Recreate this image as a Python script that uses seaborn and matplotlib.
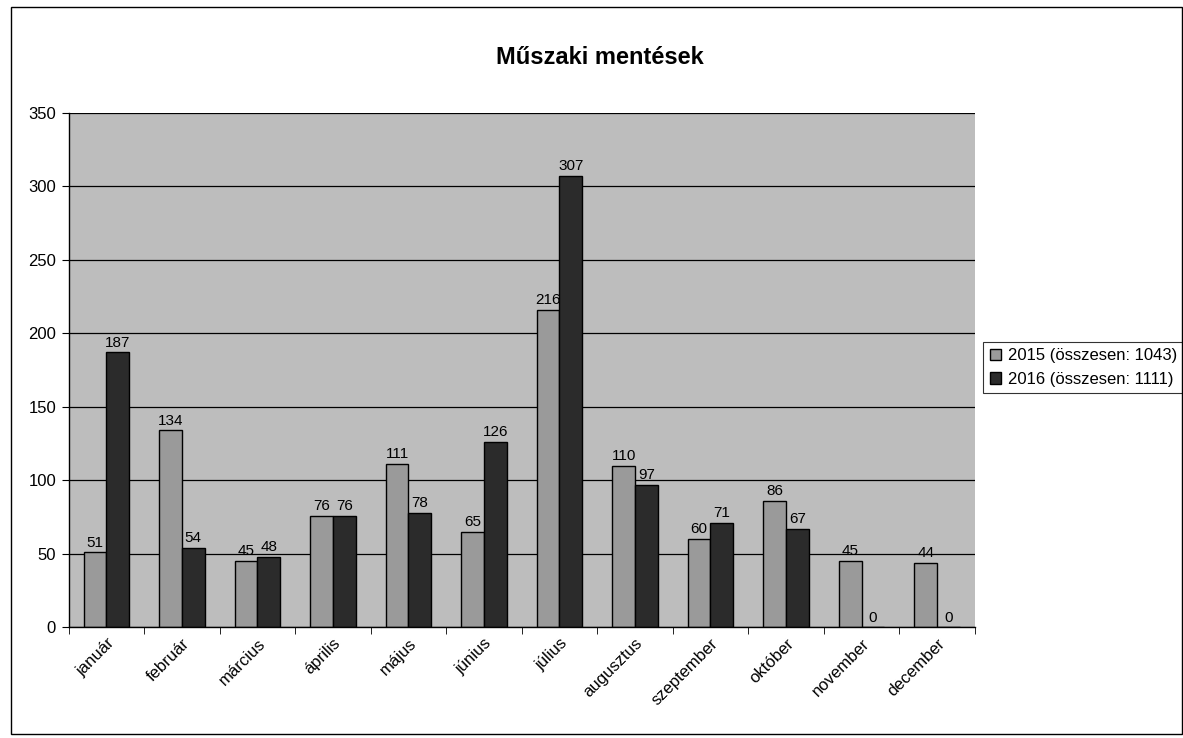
import numpy as np
import pandas as pd
import matplotlib
matplotlib.use('Agg')
import matplotlib.pyplot as plt
import seaborn as sns

months = ['január', 'február', 'március', 'április', 'május', 'június',
          'július', 'augusztus', 'szeptember', 'október', 'november', 'december']
v2015 = [51, 134, 45, 76, 111, 65, 216, 110, 60, 86, 45, 44]
v2016 = [187, 54, 48, 76, 78, 126, 307, 97, 71, 67, 0, 0]
series = ['2015 (összesen: 1043)', '2016 (összesen: 1111)']

df = pd.DataFrame({
    'honap': months * 2,
    'ertek': v2015 + v2016,
    'ev': [series[0]] * 12 + [series[1]] * 12,
})

sns.set_style('white')
plt.rcParams['font.family'] = ['Liberation Sans', 'DejaVu Sans']
plt.rcParams['text.color'] = 'black'
plt.rcParams['xtick.color'] = 'black'
plt.rcParams['ytick.color'] = 'black'

fig = plt.figure(figsize=(11.83, 7.38), dpi=100)
ax = fig.add_axes([0.058, 0.150, 0.766, 0.697])

sns.barplot(data=df, x='honap', y='ertek', hue='ev', ax=ax,
            palette=['#9a9a9a', '#2b2b2b'], width=0.6,
            edgecolor='black', linewidth=1, saturation=1)

ax.set_facecolor('#bdbdbd')
ax.set_ylim(0, 350)
ax.set_xlim(-0.5, 11.5)
ax.set_yticks(range(0, 351, 50))
ax.yaxis.grid(True, color='black', linewidth=0.9)
ax.set_axisbelow(True)
ax.set_xlabel('')
ax.set_ylabel('')
for s in ['top', 'right']:
    ax.spines[s].set_visible(False)
for s in ['left', 'bottom']:
    ax.spines[s].set_color('black')
    ax.spines[s].set_linewidth(1)

ax.tick_params(axis='y', length=5, direction='out', left=True, labelsize=12, pad=4)
ax.tick_params(axis='x', which='major', length=0, labelsize=12, pad=6)
ax.set_xticks(np.arange(-0.5, 12, 1), minor=True)
ax.tick_params(axis='x', which='minor', length=5, direction='out', bottom=True)
plt.setp(ax.get_xticklabels(), rotation=45, ha='right', rotation_mode='anchor')

for c in ax.containers:
    ax.bar_label(c, fmt='%d', padding=2, fontsize=11)

fig.text(0.507, 0.922, 'Műszaki mentések', fontsize=17, fontweight='bold',
         ha='center', va='center')

leg = ax.legend(loc='center left', bbox_to_anchor=(1.009, 0.505), frameon=True,
                fancybox=False, edgecolor='black', fontsize=12,
                handlelength=0.7, handleheight=0.7, handletextpad=0.4,
                borderpad=0.4, labelspacing=0.5, borderaxespad=0)
leg.get_frame().set_linewidth(0.8)

fig.patches.append(plt.Rectangle((0.009, 0.006), 0.99, 0.985, transform=fig.transFigure,
                                 fill=False, edgecolor='black', linewidth=1))

fig.savefig('out.png', dpi=100)
